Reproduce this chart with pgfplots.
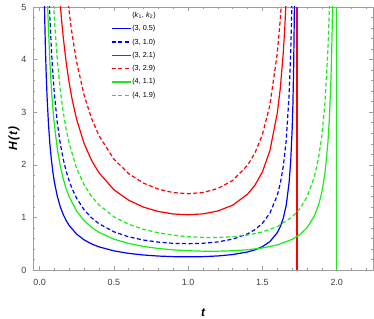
\documentclass[border=0pt]{standalone}
\usepackage{fontspec}
\setmainfont{Liberation Sans}
\usepackage{pgfplots}
\pgfplotsset{compat=1.18}
\definecolor{mblue}{rgb}{0,0,1}
\definecolor{mred}{rgb}{1,0,0}
\definecolor{mgreen}{rgb}{0.1,0.93,0.1}
\definecolor{framegray}{rgb}{0.62,0.62,0.62}
\definecolor{labgray}{rgb}{0.25,0.25,0.25}
\begin{document}
\begin{tikzpicture}
\begin{axis}[
  scale only axis,
  width=340bp, height=263bp,
  xmin=-0.044, xmax=2.244, ymin=0, ymax=5,
  axis line style={framegray, line width=0.6bp},
  tick style={framegray, line width=0.5bp},
  tick align=inside,
  tick pos=both,
  major tick length=4bp, minor tick length=2bp,
  xtick={0,0.5,1,1.5,2},
  xticklabels={0.0,0.5,1.0,1.5,2.0},
  minor xtick={0.1,0.2,0.3,0.4,0.6,0.7,0.8,0.9,1.1,1.2,1.3,1.4,1.6,1.7,1.8,1.9,2.1,2.2},
  ytick={0,1,2,3,4,5},
  yticklabels={0,1,2,3,4,5},
  minor ytick={0.2,0.4,0.6,0.8,1.2,1.4,1.6,1.8,2.2,2.4,2.6,2.8,3.2,3.4,3.6,3.8,4.2,4.4,4.6,4.8},
  ticklabel style={font=\fontsize{9}{10}\selectfont, text=labgray},
  xticklabel style={yshift=-6bp},
  yticklabel style={xshift=-3bp},
  every axis x label/.style={at={(rel axis cs:0.5,-0.1635)}, anchor=center},
  every axis y label/.style={at={(rel axis cs:-0.0559,0.5)}, rotate=90, anchor=center},
  xlabel={\fontsize{12}{14}\selectfont\bfseries\itshape t},
  ylabel={\fontsize{12}{14}\selectfont\bfseries\itshape H\kern1bp(\kern1bp t\kern1bp)},
  legend style={at={(axis cs:0.48,4.92)}, anchor=north west, draw=none, fill=none,
    font=\fontsize{7.3}{8}\selectfont, inner sep=0pt,
    nodes={inner sep=1bp, text height=5bp, text depth=1bp}, row sep=5.3bp},
  legend cell align=left,
  legend image code/.code={\draw[#1] (0bp,0bp) -- (19bp,0bp);},
  line join=round,
]
\addlegendimage{empty legend}
\addlegendentry{(\textit{k}\textsubscript{1}, \textit{k}\textsubscript{2})}

% (3, 0.5)
\addplot[mblue, line width=1.2bp] coordinates {
(0.02,8.33) (0.025,6.67) (0.03,5.56) (0.035,4.76) (0.04,4.17) (0.045,3.71) (0.05,3.34) (0.06,2.78)
(0.07,2.38) (0.08,2.09) (0.09,1.857) (0.1,1.672) (0.12,1.396) (0.14,1.198) (0.16,1.051)
(0.18,0.936) (0.2,0.845) (0.25,0.681) (0.3,0.573) (0.35,0.496) (0.4,0.440) (0.5,0.364)
(0.6,0.316) (0.7,0.285) (0.8,0.265) (0.9,0.254) (1.0,0.25) (1.1,0.254) (1.2,0.267)
(1.3,0.294) (1.4,0.343) (1.45,0.384) (1.5,0.444) (1.55,0.540) (1.6,0.710) (1.62,0.822)
(1.64,0.982) (1.66,1.232) (1.68,1.676) (1.69,2.056) (1.70,2.674) (1.705,3.15) (1.71,3.852) (1.715,4.96)
(1.718,6.00) (1.72,6.988)};
\addlegendentry{(3, 0.5)}

% (3, 1.0)
\addplot[mblue, line width=1.2bp, dash pattern=on 4bp off 2.5bp] coordinates {
(0.05,6.67) (0.055,6.07) (0.06,5.56) (0.065,5.13) (0.07,4.77) (0.08,4.18) (0.09,3.71) (0.1,3.344) (0.12,2.791)
(0.14,2.397) (0.16,2.101) (0.18,1.872) (0.2,1.689) (0.22,1.540) (0.25,1.362) (0.3,1.145)
(0.35,0.993) (0.4,0.880) (0.5,0.727) (0.6,0.631) (0.7,0.569) (0.8,0.530) (0.9,0.507)
(1.0,0.5) (1.1,0.508) (1.2,0.534) (1.3,0.587) (1.4,0.687) (1.45,0.768) (1.5,0.889)
(1.55,1.080) (1.6,1.420) (1.62,1.643) (1.64,1.964) (1.66,2.465) (1.68,3.352) (1.69,4.112)
(1.695,4.67) (1.70,5.348) (1.71,7.70)};
\addlegendentry{(3, 1.0)}

% (3, 2.1)
\addplot[mred, line width=1.2bp] coordinates {
(0.12,5.861) (0.13,5.415) (0.14,5.033) (0.15,4.702) (0.16,4.413) (0.18,3.931) (0.2,3.547)
(0.22,3.234) (0.25,2.860) (0.3,2.405) (0.35,2.085) (0.4,1.849) (0.5,1.527) (0.6,1.326)
(0.7,1.195) (0.8,1.112) (0.9,1.065) (1.0,1.05) (1.1,1.067) (1.2,1.122) (1.3,1.233)
(1.4,1.442) (1.45,1.614) (1.5,1.867) (1.55,2.267) (1.6,2.983) (1.62,3.451) (1.64,4.125)
(1.65,4.586) (1.66,5.176) (1.67,5.957) (1.68,7.04)};
\addlegendentry{(3, 2.1)}

% (3, 2.9)
\addplot[mred, line width=1.2bp, dash pattern=on 4bp off 2.5bp] coordinates {
(0.18,5.429) (0.19,5.150) (0.2,4.899) (0.21,4.672) (0.22,4.466) (0.25,3.949) (0.3,3.322)
(0.35,2.879) (0.4,2.553) (0.5,2.109) (0.6,1.831) (0.7,1.651) (0.8,1.536) (0.9,1.471)
(1.0,1.45) (1.1,1.473) (1.2,1.549) (1.3,1.703) (1.4,1.992) (1.45,2.228) (1.5,2.578)
(1.55,3.131) (1.6,4.119) (1.62,4.766) (1.63,5.186) (1.64,5.697)};
\addlegendentry{(3, 2.9)}

\addplot[mred, line width=1.7bp, forget plot] coordinates {(1.732,0) (1.732,5)};

% (4, 1.1)
\addplot[mgreen, line width=1.2bp] coordinates {
(0.04,6.878) (0.045,6.11) (0.05,5.503) (0.055,5.00) (0.06,4.587) (0.07,3.933) (0.08,3.443) (0.09,3.062) (0.1,2.757)
(0.12,2.300) (0.14,1.974) (0.16,1.730) (0.18,1.540) (0.2,1.389) (0.25,1.117) (0.3,0.938)
(0.35,0.811) (0.4,0.716) (0.5,0.587) (0.6,0.504) (0.7,0.448) (0.8,0.409) (0.9,0.383)
(1.0,0.367) (1.1,0.358) (1.155,0.357) (1.2,0.358) (1.3,0.366) (1.4,0.385) (1.5,0.419)
(1.6,0.477) (1.7,0.583) (1.75,0.670) (1.8,0.804) (1.85,1.030) (1.88,1.257) (1.9,1.484)
(1.92,1.827) (1.94,2.399) (1.95,2.856) (1.96,3.543) (1.965,4.03) (1.97,4.688) (1.975,5.605) (1.98,6.979)};
\addlegendentry{(4, 1.1)}

% (4, 1.9)
\addplot[mgreen, line width=1.2bp, dash pattern=on 4bp off 2.5bp] coordinates {
(0.07,6.794) (0.08,5.947) (0.09,5.288) (0.095,5.01) (0.1,4.762) (0.12,3.973) (0.14,3.410) (0.16,2.988)
(0.18,2.660) (0.2,2.399) (0.25,1.930) (0.3,1.620) (0.35,1.400) (0.4,1.237) (0.5,1.013)
(0.6,0.870) (0.7,0.773) (0.8,0.707) (0.9,0.662) (1.0,0.633) (1.1,0.619) (1.155,0.617)
(1.2,0.618) (1.3,0.633) (1.4,0.665) (1.5,0.724) (1.6,0.825) (1.7,1.007) (1.75,1.158)
(1.8,1.389) (1.85,1.778) (1.88,2.171) (1.9,2.564) (1.92,3.156) (1.94,4.143) (1.945,4.502)
(1.95,4.934) (1.96,6.120)};
\addlegendentry{(4, 1.9)}

\addplot[mgreen, line width=1.3bp, forget plot] coordinates {(2,0) (2,5)};
\end{axis}
\pgfresetboundingbox
\path[use as bounding box] ([xshift=-33bp,yshift=-49bp]current axis.south west) rectangle ([xshift=1bp,yshift=7bp]current axis.north east);
\end{tikzpicture}
\end{document}
